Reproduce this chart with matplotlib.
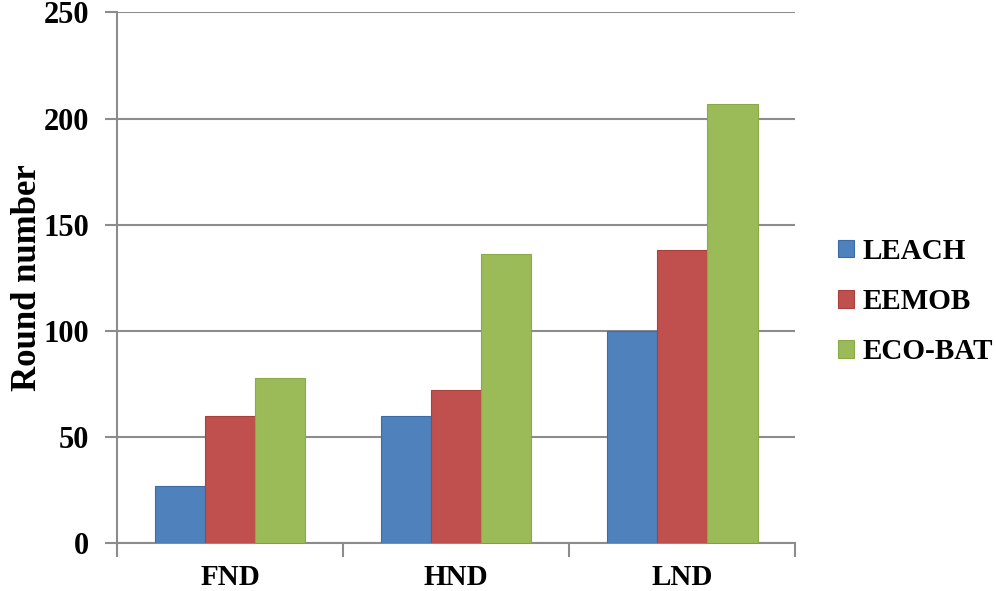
import matplotlib.pyplot as plt
import numpy as np

categories = ['FND', 'HND', 'LND']
series = ['LEACH', 'EEMOB', 'ECO-BAT']
leach = [27, 60, 100]
eemob = [60, 72, 138]
ecobat = [78, 136, 207]
colors = ['#4F81BD', '#C0504D', '#9BBB59']
edges = ['#3C6CA8', '#A8403D', '#8AAA48']

plt.rcParams['font.family'] = ['Liberation Serif', 'DejaVu Serif']
plt.rcParams['font.weight'] = 'bold'

fig = plt.figure(figsize=(9.96, 5.91), dpi=100)
ax = fig.add_axes([0.1175, 0.081, 0.681, 0.898])

x = np.arange(len(categories))
width = 0.222
for i, (name, vals) in enumerate(zip(series, [leach, eemob, ecobat])):
    ax.bar(x + (i - 1) * width, vals, width, label=name, color=colors[i],
           edgecolor=edges[i], linewidth=0.8, zorder=3)

ax.set_xlim(-0.5, 2.5)
ax.set_ylim(0, 250)
ax.set_yticks(np.arange(0, 251, 50))
ax.set_xticks(x)
ax.set_xticklabels(categories)
ax.set_xticks([-0.5, 0.5, 1.5, 2.5], minor=True)
ax.tick_params(axis='x', which='major', length=0, pad=15, labelsize=21)
ax.tick_params(axis='x', which='minor', length=10, width=1.5, color='#8C8C8C', direction='out')
ax.tick_params(axis='y', length=9, width=1.5, color='#8C8C8C', direction='out', pad=11, labelsize=22)
ax.yaxis.grid(True, color='#8C8C8C', linewidth=1.5, zorder=0)
ax.set_axisbelow(True)

for s in ['top', 'right']:
    ax.spines[s].set_visible(False)
for s in ['left', 'bottom']:
    ax.spines[s].set_color('#8C8C8C')
    ax.spines[s].set_linewidth(1.5)

ax.set_ylabel('Round number', fontsize=25, fontweight='bold')
ax.yaxis.set_label_coords(-0.108, 0.5)

ax.legend(loc='center left', bbox_to_anchor=(1.063, 0.455), frameon=False,
          fontsize=21, handlelength=0.55, handleheight=0.55, handletextpad=0.3,
          labelspacing=0.8, borderpad=0, borderaxespad=0)

fig.savefig('out.png', dpi=100)
